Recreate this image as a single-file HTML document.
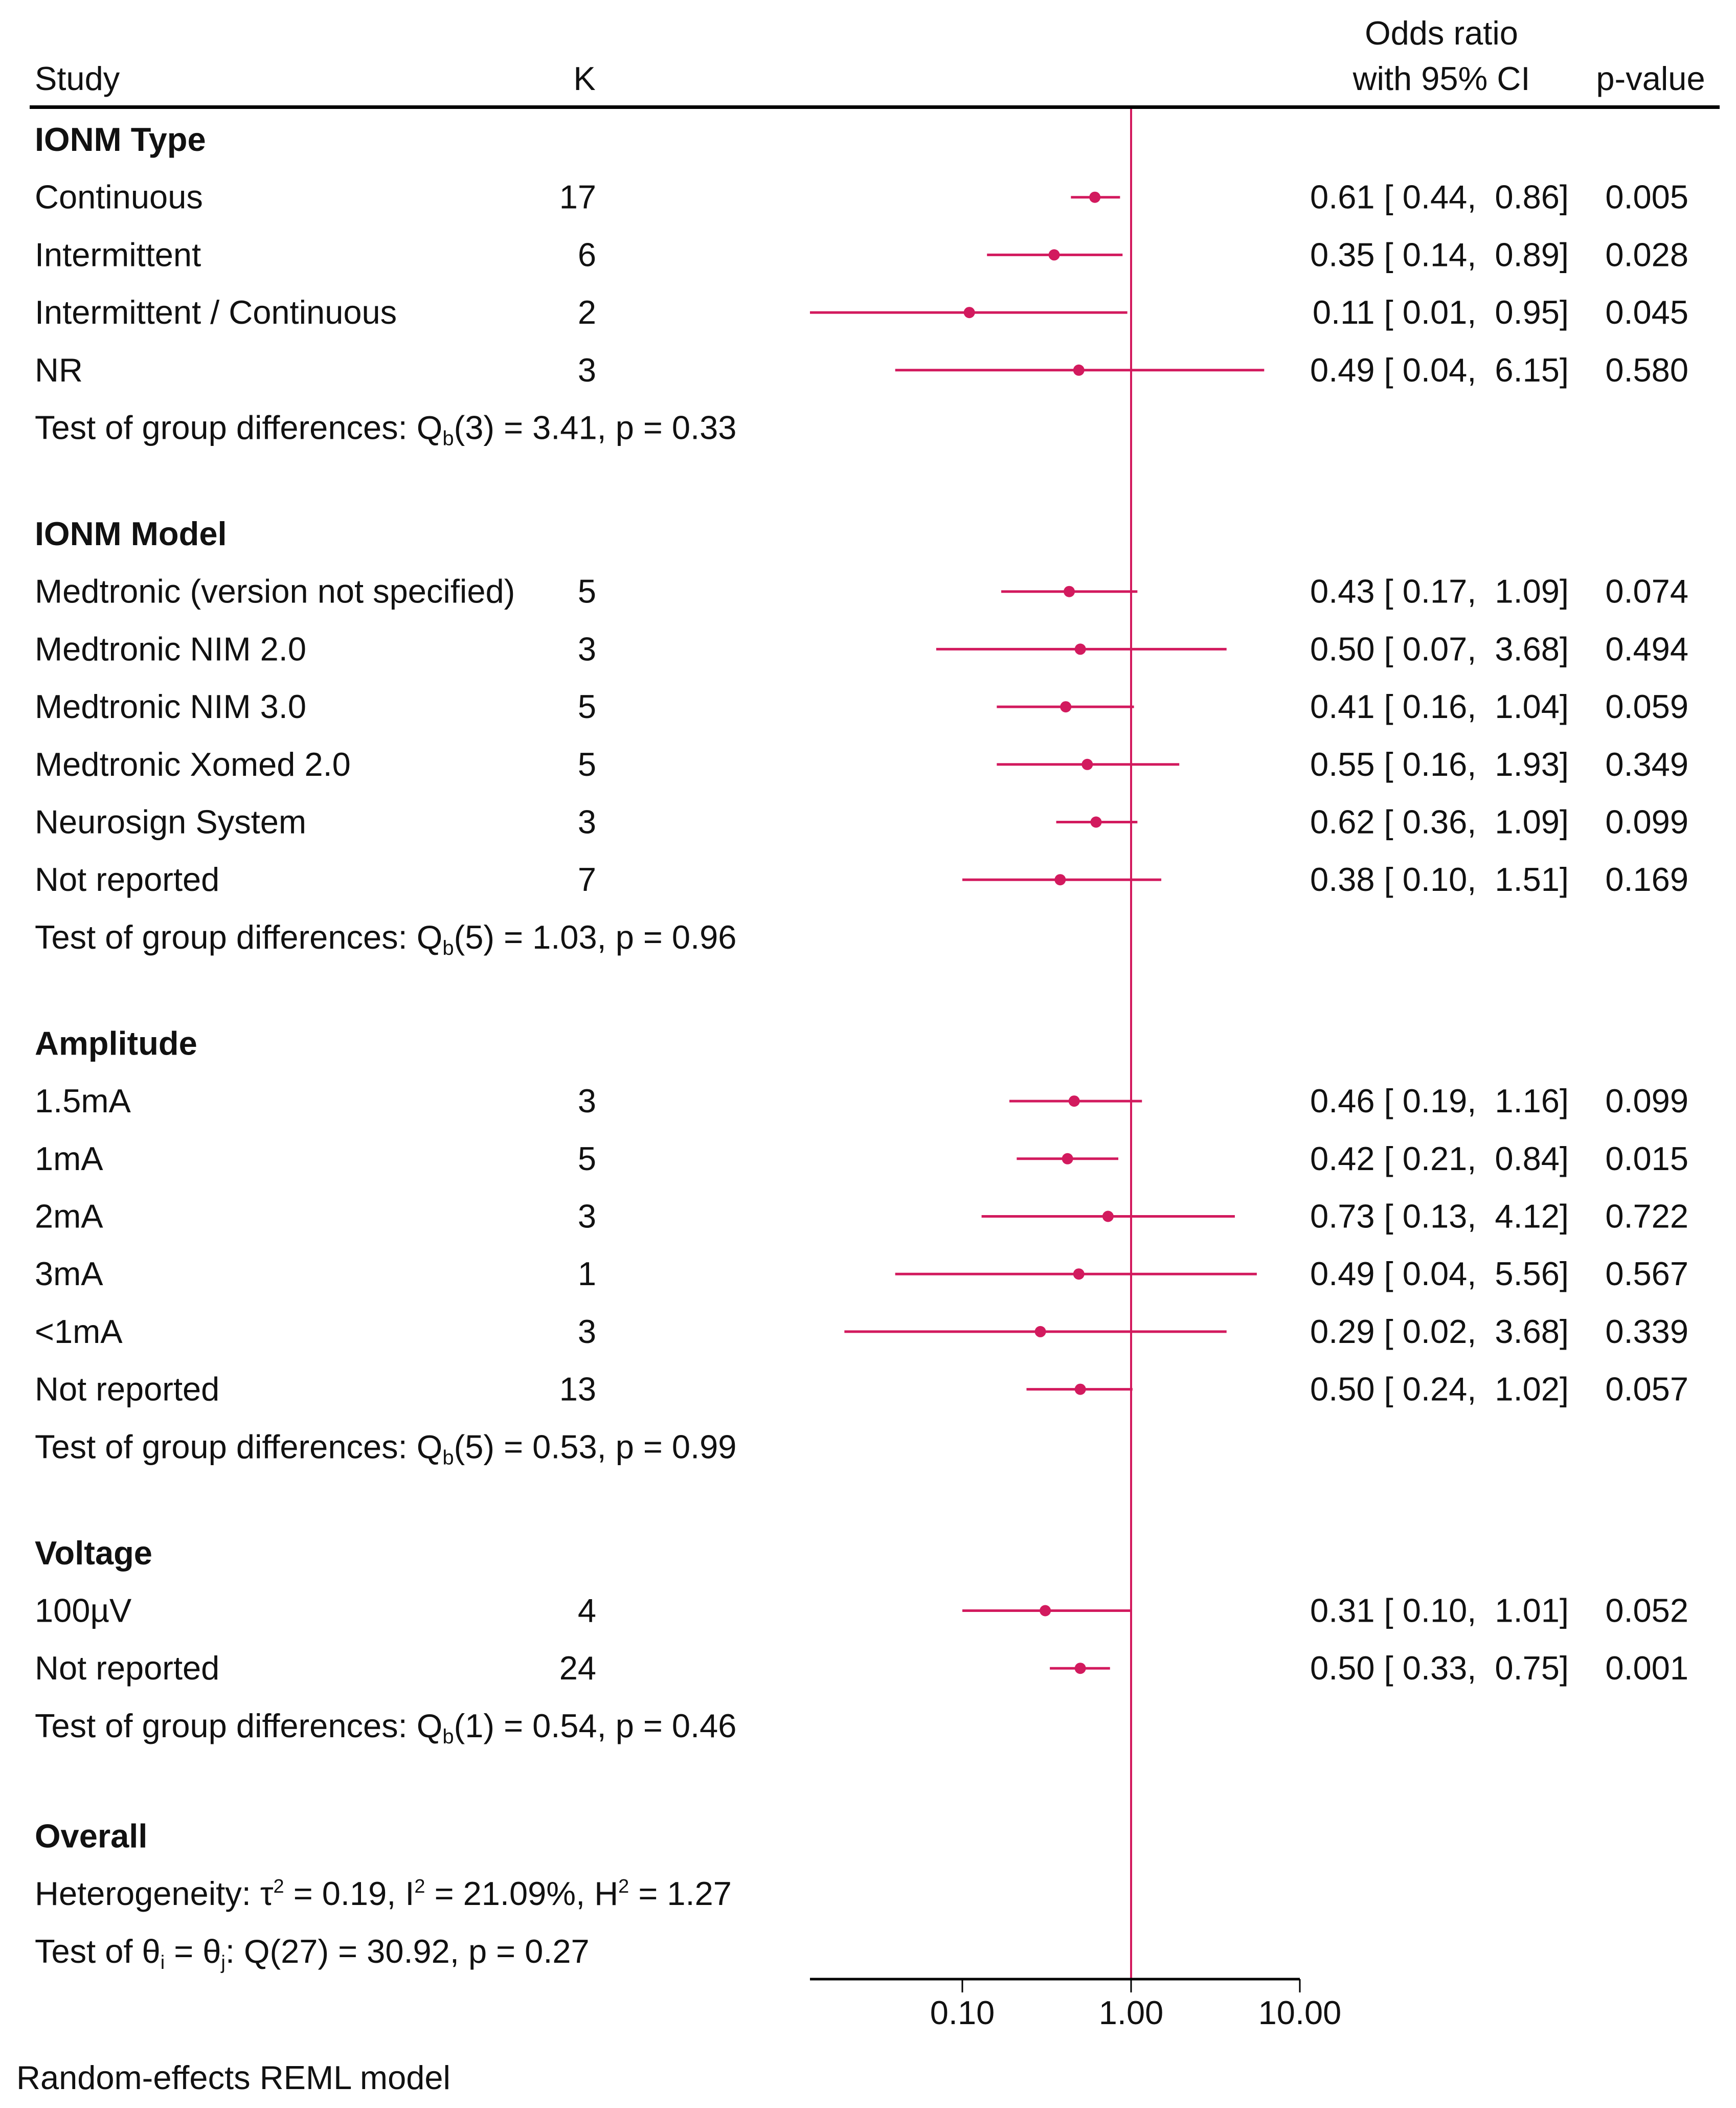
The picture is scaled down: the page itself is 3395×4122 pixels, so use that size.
<!DOCTYPE html>
<html><head><meta charset="utf-8">
<style>
html,body{margin:0;padding:0;background:#fff;}
svg{display:block;}
text{font-family:"Liberation Sans",Arial,sans-serif;font-size:65px;fill:#111;white-space:pre;}
.b{font-weight:bold;}
</style></head>
<body>
<svg id="chart" width="3395" height="4122" viewBox="0 0 3395 4122" xmlns="http://www.w3.org/2000/svg" xml:space="preserve">
  <g id="header">
    <text x="68" y="176">Study</text>
    <text x="1143" y="176" text-anchor="middle">K</text>
    <text x="2819" y="87" text-anchor="middle">Odds ratio</text>
    <text x="2819" y="176" text-anchor="middle">with 95% CI</text>
    <text x="3228" y="176" text-anchor="middle">p-value</text>
    <rect x="58" y="206" width="3305" height="7" fill="#000"/>
  </g>
  <g id="rows"></g>
  <g id="marks"></g>
  <g id="axis"></g>
  <text x="32" y="4085">Random-effects REML model</text>
</svg>
<script>
// ---- data ----
const groupNames = ["IONM Type","IONM Model","Amplitude","Voltage"];
const studyLabels = [
 ["Continuous","Intermittent","Intermittent / Continuous","NR"],
 ["Medtronic (version not specified)","Medtronic NIM 2.0","Medtronic NIM 3.0","Medtronic Xomed 2.0","Neurosign System","Not reported"],
 ["1.5mA","1mA","2mA","3mA","<1mA","Not reported"],
 ["100\u00b5V","Not reported"]
];
const kValues = [[17,6,2,3],[5,3,5,5,3,7],[3,5,3,1,3,13],[4,24]];
const orValues = [[0.61,0.35,0.11,0.49],[0.43,0.50,0.41,0.55,0.62,0.38],[0.46,0.42,0.73,0.49,0.29,0.50],[0.31,0.50]];
const ciLow = [[0.44,0.14,0.01,0.04],[0.17,0.07,0.16,0.16,0.36,0.10],[0.19,0.21,0.13,0.04,0.02,0.24],[0.10,0.33]];
const ciHigh = [[0.86,0.89,0.95,6.15],[1.09,3.68,1.04,1.93,1.09,1.51],[1.16,0.84,4.12,5.56,3.68,1.02],[1.01,0.75]];
const pValues = [["0.005","0.028","0.045","0.580"],["0.074","0.494","0.059","0.349","0.099","0.169"],["0.099","0.015","0.722","0.567","0.339","0.057"],["0.052","0.001"]];
const groupDf = [3,5,5,1];
const groupQ = ["3.41","1.03","0.53","0.54"];
const groupP = ["0.33","0.96","0.99","0.46"];
const tickValues = [0.1,1,10];
const tickLabels = ["0.10","1.00","10.00"];
const axisMin = 0.0125, axisMax = 10;

// ---- layout ----
const NS="http://www.w3.org/2000/svg";
const RED="#d21a5e";
const xOne=2212, decade=330;
function xs(v){return xOne+decade*Math.log10(v);}
const rowsG=document.getElementById('rows'), marksG=document.getElementById('marks'), axisG=document.getElementById('axis');
const step=112.7, secGap=207.5;
function mk(tag,attrs,parent){const e=document.createElementNS(NS,tag);for(const k in attrs)e.setAttribute(k,attrs[k]);parent.appendChild(e);return e;}
function txt(x,y,s,parent,anchor,cls){const t=mk('text',{x:x,y:y},parent);if(anchor)t.setAttribute('text-anchor',anchor);if(cls)t.setAttribute('class',cls);t.textContent=s;return t;}
function fmt(v){return v.toFixed(2);}
let yc=273;
const off=22;
groupNames.forEach((g,gi)=>{
  const h=txt(68,yc+off,g,rowsG,null,'b');
  
  
  yc+=step;
  studyLabels[gi].forEach((lab,ri)=>{
    const l=txt(68,yc+off,lab,rowsG);
    
    
    const k=txt(1166,yc+off,String(kValues[gi][ri]),rowsG,'end');
    
    
    const o=txt(3068,yc+off,fmt(orValues[gi][ri])+" [ "+fmt(ciLow[gi][ri])+",  "+fmt(ciHigh[gi][ri])+"]",rowsG,'end');
    
    
    const p=txt(3302,yc+off,pValues[gi][ri],rowsG,'end');
    
    
    const lo=Math.max(ciLow[gi][ri],axisMin), hi=Math.min(ciHigh[gi][ri],axisMax);
    const ln=mk('line',{x1:xs(lo),x2:xs(hi),y1:yc,y2:yc,stroke:RED,'stroke-width':5},marksG);
    
    
    const c=mk('circle',{cx:xs(orValues[gi][ri]),cy:yc,r:11,fill:RED},marksG);
    
    
    yc+=step;
  });
  const t=mk('text',{x:68,y:yc+off},rowsG);
  
  
  t.innerHTML='Test of group differences: Q<tspan font-size="40" dy="12">b</tspan><tspan dy="-12">('+groupDf[gi]+') = '+groupQ[gi]+', p = '+groupP[gi]+'</tspan>';
  yc+=secGap;
});
yc+=8;
const ov=txt(68,yc+off,"Overall",rowsG,null,'b');


yc+=step;
const het=mk('text',{x:68,y:yc+off},rowsG);


het.innerHTML='Heterogeneity: \u03c4<tspan font-size="38" dy="-24">2</tspan><tspan dy="24"> = 0.19, I</tspan><tspan font-size="38" dy="-24">2</tspan><tspan dy="24"> = 21.09%, H</tspan><tspan font-size="38" dy="-24">2</tspan><tspan dy="24"> = 1.27</tspan>';
yc+=step;
const th=mk('text',{x:68,y:yc+off},rowsG);


th.innerHTML='Test of \u03b8<tspan font-size="38" dy="12">i</tspan><tspan dy="-12"> = \u03b8</tspan><tspan font-size="38" dy="12">j</tspan><tspan dy="-12">: Q(27) = 30.92, p = 0.27</tspan>';

// null line & axis
const axisY=3870;
const nl=mk('line',{x1:xOne,x2:xOne,y1:213,y2:axisY,stroke:RED,'stroke-width':4},marksG);


const al=mk('line',{x1:xs(axisMin),x2:xs(axisMax),y1:axisY,y2:axisY,stroke:'#000','stroke-width':5},axisG);


tickValues.forEach((v,i)=>{
  const tk=mk('line',{x1:xs(v),x2:xs(v),y1:axisY,y2:axisY+26,stroke:'#000','stroke-width':3},axisG);
  
  
  const tl=txt(xs(v),axisY+88,tickLabels[i],axisG,'middle');
  
  
});
</script>
</body></html>
